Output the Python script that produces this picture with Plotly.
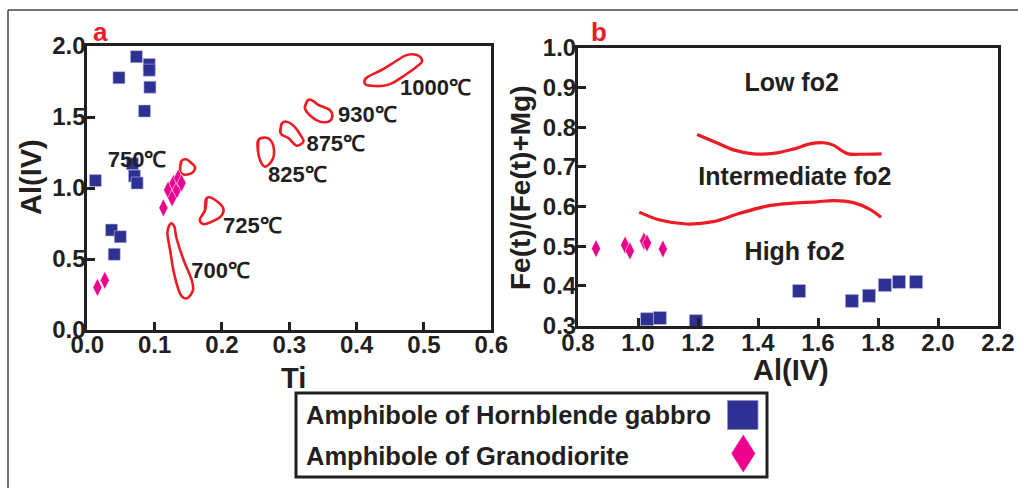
import plotly.graph_objects as go

W, H = 1018, 488
def px(x): return x / W
def py(y): return 1 - y / H

FONT = "Liberation Sans, Arial, sans-serif"
INK = "#231f20"
BLUE = "#2E3192"
PINK = "#EC008C"
RED = "#ED1C24"

# ---- Panel a data: Ti vs Al(IV) ----
gabbro_a_ti = [0.073, 0.092, 0.092, 0.047, 0.093, 0.085, 0.012, 0.067, 0.070, 0.074, 0.036, 0.049, 0.040]
gabbro_a_al = [1.925, 1.870, 1.830, 1.777, 1.710, 1.542, 1.052, 1.170, 1.084, 1.035, 0.704, 0.657, 0.533]
grano_a_ti = [0.015, 0.026, 0.113, 0.120, 0.126, 0.128, 0.133, 0.135, 0.140]
grano_a_al = [0.300, 0.350, 0.860, 0.986, 0.930, 1.033, 0.986, 1.070, 1.035]

# temperature contours (Ti, Al(IV))
c1000_ti = [0.412, 0.417, 0.437, 0.457, 0.472, 0.482, 0.494, 0.497, 0.489, 0.472, 0.452, 0.440, 0.422, 0.413]
c1000_al = [1.761, 1.784, 1.831, 1.889, 1.932, 1.942, 1.925, 1.889, 1.854, 1.796, 1.737, 1.720, 1.720, 1.730]
c930_ti = [0.328, 0.323, 0.333, 0.346, 0.360, 0.364, 0.360, 0.343, 0.333]
c930_al = [1.620, 1.565, 1.502, 1.467, 1.472, 1.514, 1.549, 1.585, 1.620]
c875_ti = [0.289, 0.287, 0.299, 0.311, 0.321, 0.316, 0.305, 0.296]
c875_al = [1.456, 1.385, 1.350, 1.298, 1.326, 1.378, 1.444, 1.467]
c825_ti = [0.254, 0.255, 0.264, 0.276, 0.275, 0.266]
c825_al = [1.338, 1.220, 1.150, 1.209, 1.315, 1.354]
c750_ti = [0.140, 0.138, 0.144, 0.156, 0.160, 0.154, 0.147]
c750_al = [1.192, 1.115, 1.094, 1.108, 1.146, 1.178, 1.202]
c725_ti = [0.177, 0.175, 0.167, 0.172, 0.185, 0.200, 0.202, 0.190, 0.182]
c725_al = [0.928, 0.845, 0.775, 0.746, 0.763, 0.810, 0.857, 0.915, 0.935]
c700_ti = [0.122, 0.119, 0.123, 0.130, 0.140, 0.148, 0.157, 0.155, 0.143, 0.132, 0.129, 0.125]
c700_al = [0.739, 0.692, 0.563, 0.375, 0.239, 0.223, 0.282, 0.352, 0.493, 0.657, 0.732, 0.751]

temp_labels = ["1000℃", "930℃", "875℃", "825℃", "750℃", "725℃", "700℃"]
temp_label_ti = [0.517, 0.416, 0.369, 0.312, 0.074, 0.245, 0.198]
temp_label_al = [1.697, 1.505, 1.298, 1.080, 1.185, 0.723, 0.406]

# ---- Panel b data: Al(IV) vs Fe/(Fe+Mg) ----
gabbro_b_al = [1.030, 1.073, 1.193, 1.537, 1.713, 1.770, 1.823, 1.870, 1.927]
gabbro_b_fe = [0.316, 0.319, 0.311, 0.387, 0.362, 0.375, 0.402, 0.410, 0.410]
grano_b_al = [0.860, 0.957, 0.973, 1.020, 1.030, 1.083]
grano_b_fe = [0.494, 0.503, 0.488, 0.513, 0.508, 0.493]

upper_al = [1.197, 1.262, 1.318, 1.384, 1.451, 1.518, 1.573, 1.618, 1.651, 1.679, 1.701, 1.740, 1.812]
upper_fe = [0.782, 0.761, 0.743, 0.733, 0.734, 0.745, 0.758, 0.761, 0.755, 0.741, 0.733, 0.732, 0.733]
lower_al = [1.004, 1.073, 1.162, 1.251, 1.340, 1.429, 1.507, 1.596, 1.651, 1.718, 1.773, 1.810]
lower_fe = [0.586, 0.566, 0.556, 0.562, 0.583, 0.601, 0.608, 0.612, 0.615, 0.610, 0.593, 0.573]

zone_labels = ["Low fo2", "Intermediate fo2", "High fo2"]
zone_al = [1.512, 1.523, 1.522]
zone_fe = [0.907, 0.669, 0.480]

legend_labels = ["Amphibole of Hornblende gabbro", "Amphibole of Granodiorite"]

fig = go.Figure()

sq = dict(symbol="square", size=12, color=BLUE, line=dict(color="#b8b9e0", width=0.6))
dm = dict(symbol="diamond-tall", size=13, color=PINK, line=dict(color="white", width=0.6))

contours = [(c1000_ti, c1000_al), (c930_ti, c930_al), (c875_ti, c875_al), (c825_ti, c825_al),
            (c750_ti, c750_al), (c725_ti, c725_al), (c700_ti, c700_al)]
for cx, cy in contours:
    fig.add_trace(go.Scatter(x=cx + cx[:2], y=cy + cy[:2], mode="lines", xaxis="x", yaxis="y",
                             line=dict(color=RED, width=2.6, shape="spline", smoothing=1.0),
                             hoverinfo="skip", showlegend=False))

fig.add_trace(go.Scatter(x=gabbro_a_ti, y=gabbro_a_al, mode="markers", marker=sq,
                         xaxis="x", yaxis="y", name=legend_labels[0], showlegend=False))
fig.add_trace(go.Scatter(x=grano_a_ti, y=grano_a_al, mode="markers", marker=dm,
                         xaxis="x", yaxis="y", name=legend_labels[1], showlegend=False))

fig.add_trace(go.Scatter(x=temp_label_ti, y=temp_label_al, mode="text", text=temp_labels,
                         textfont=dict(family=FONT, size=22, color=INK, weight="bold"),
                         xaxis="x", yaxis="y", showlegend=False, hoverinfo="skip", cliponaxis=False))

for lx, ly in [(upper_al, upper_fe), (lower_al, lower_fe)]:
    fig.add_trace(go.Scatter(x=lx, y=ly, mode="lines", xaxis="x2", yaxis="y2",
                             line=dict(color=RED, width=3.2, shape="spline", smoothing=1.0),
                             hoverinfo="skip", showlegend=False))

fig.add_trace(go.Scatter(x=gabbro_b_al, y=gabbro_b_fe, mode="markers", marker=dict(sq, size=13),
                         xaxis="x2", yaxis="y2", name=legend_labels[0], showlegend=False, cliponaxis=False))
fig.add_trace(go.Scatter(x=grano_b_al, y=grano_b_fe, mode="markers", marker=dm,
                         xaxis="x2", yaxis="y2", name=legend_labels[1], showlegend=False))

fig.add_trace(go.Scatter(x=zone_al, y=zone_fe, mode="text", text=zone_labels,
                         textfont=dict(family=FONT, size=25, color=INK, weight="bold"),
                         xaxis="x2", yaxis="y2", showlegend=False, hoverinfo="skip"))

axis_common = dict(showline=True, linewidth=3, linecolor=INK, mirror=True, ticks="inside",
                   ticklen=8, tickwidth=3, tickcolor=INK, showgrid=False, zeroline=False,
                   tickfont=dict(family=FONT, size=24, color=INK, weight="bold"),
                   tickformat=".1f", fixedrange=True, automargin=False)

fig.update_layout(
    width=W, height=H, margin=dict(l=0, r=0, t=0, b=0, pad=0, autoexpand=False),
    paper_bgcolor="white", plot_bgcolor="white", showlegend=False,
    xaxis=dict(axis_common, domain=[px(87.3), px(491.3)], range=[0, 0.6], dtick=0.1,
               anchor="y", ticklabelstandoff=-9),
    yaxis=dict(axis_common, domain=[py(330), py(46)], range=[0, 2.0], dtick=0.5,
               anchor="x", ticklabelstandoff=-6),
    xaxis2=dict(axis_common, domain=[px(578), px(998)], range=[0.8, 2.2], dtick=0.2,
                anchor="y2", ticklabelstandoff=-6),
    yaxis2=dict(axis_common, domain=[py(325.5), py(48)], range=[0.3, 1.0], dtick=0.1,
                anchor="x2", ticklabelstandoff=-6),
)

ann = []
def txt(x, y, s, size, color=INK, angle=0, xanchor="center"):
    ann.append(dict(x=px(x), y=py(y), xref="paper", yref="paper", text=s, showarrow=False,
                    textangle=angle, xanchor=xanchor, yanchor="middle", borderpad=0,
                    font=dict(family=FONT, size=size, color=color, weight="bold")))

txt(100.7, 32, "a", 26, RED)
txt(599.3, 32, "b", 26, RED)
txt(293, 378, "Ti", 29)
txt(31, 177, "Al(IV)", 29, angle=-90)
txt(790.7, 370, "Al(IV)", 29)
txt(520, 188, "Fe(t)/(Fe(t)+Mg)", 28, angle=-90)
txt(305, 415, legend_labels[0], 25.5, xanchor="left")
txt(305, 456, legend_labels[1], 25.5, xanchor="left")
fig.update_layout(annotations=ann)

shapes = [
    # outer frame
    dict(type="line", xref="paper", yref="paper", x0=px(8), y0=py(10), x1=1, y1=py(10),
         line=dict(color="#444", width=1.5)),
    dict(type="line", xref="paper", yref="paper", x0=px(8), y0=py(10), x1=px(8), y1=0,
         line=dict(color="#444", width=1.5)),
    # legend box
    dict(type="rect", xref="paper", yref="paper", x0=px(296), y0=py(477), x1=px(767), y1=py(393),
         line=dict(color=INK, width=3), fillcolor="white", layer="below"),
    # legend glyphs
    dict(type="rect", xref="paper", yref="paper", x0=px(727.5), y0=py(429.5), x1=px(758), y1=py(400.5),
         line=dict(color="#8f90c8", width=0.8), fillcolor=BLUE),
    dict(type="path", xref="paper", yref="paper",
         path=f"M {px(743.3)},{py(435)} L {px(755)},{py(453.5)} L {px(743.3)},{py(472)} L {px(731.6)},{py(453.5)} Z",
         line=dict(color=PINK, width=0.5), fillcolor=PINK),
]
fig.update_layout(shapes=shapes)

fig.write_html("out.html", config={"displayModeBar": False},
               post_script="document.body.style.margin='0px';document.body.style.overflow='hidden';")
